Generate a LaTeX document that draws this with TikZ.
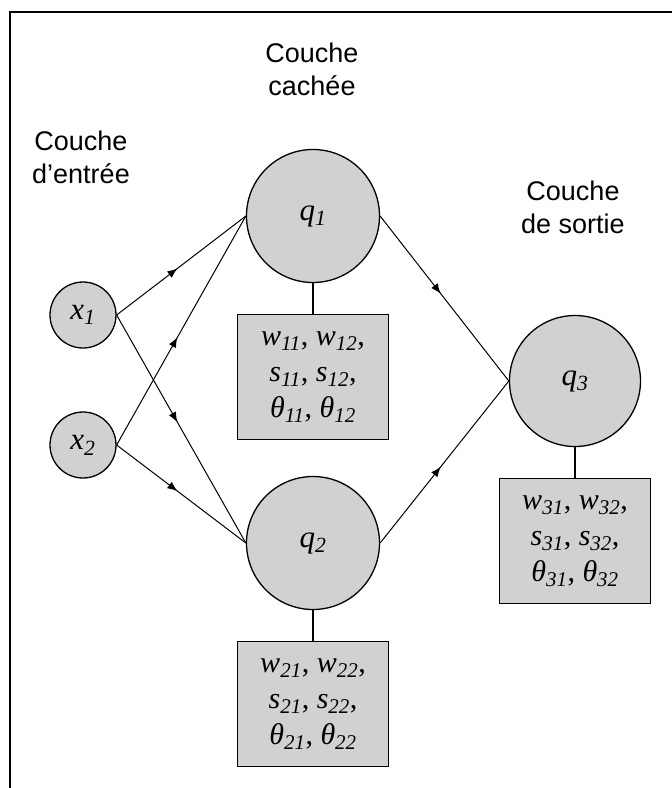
\documentclass[tikz,border=0pt]{standalone}
\usepackage{fontspec}
\setmainfont{Liberation Serif}
\newfontfamily\labfont{Liberation Sans}
\usetikzlibrary{decorations.markings,arrows.meta}
\newcommand\vr[2]{\textit{#1}\textsubscript{\textit{#2}}}
\begin{document}
\begin{tikzpicture}[x=1pt,y=-1pt,
  neuron/.style={circle,draw=black,line width=1.3pt,fill=black!18,inner sep=0pt,
     font=\fontsize{31}{36}\selectfont},
  parbox/.style={rectangle,draw=black,line width=1.5pt,fill=black!18,
     minimum width=151pt,minimum height=125pt,inner sep=0pt,align=center,
     font=\fontsize{30}{36}\selectfont},
  layerlab/.style={align=center,font=\labfont\fontsize{27}{33}\selectfont},
  link/.style={line width=1pt,postaction={decorate},
     decoration={markings,mark=at position 0.47 with {\arrow{Latex[length=10pt,width=8pt]}}}},
  tie/.style={line width=1.6pt}]
\useasboundingbox (0,0) rectangle (672,788);
\coordinate (fTL) at (10,12);
\coordinate (fTR) at (672,12);
\coordinate (fBL) at (10,788);
\draw[line width=1.3pt] (fTR) -- (fTL) -- (fBL);

\node[layerlab] (lh) at (312,69) {Couche\\cachée};
\node[layerlab] (li) at (81,157) {Couche\\d’entrée};
\node[layerlab] (lo) at (573,207) {Couche\\de sortie};

\node[neuron,minimum size=66pt] (x1) at (83,315) {\vr{x}{1}};
\node[neuron,minimum size=66pt] (x2) at (83,445) {\vr{x}{2}};
\node[neuron,minimum size=133pt] (q1) at (313,216) {\vr{q}{1}};
\node[neuron,minimum size=133pt] (q2) at (313,543) {\vr{q}{2}};
\node[neuron,minimum size=131pt] (q3) at (575,381) {\vr{q}{3}};

\node[parbox] (b1) at (313,377) {\vr{w}{11}, \vr{w}{12},\\ \vr{s}{11}, \vr{s}{12},\\ \vr{θ}{11}, \vr{θ}{12}};
\node[parbox] (b2) at (313,704) {\vr{w}{21}, \vr{w}{22},\\ \vr{s}{21}, \vr{s}{22},\\ \vr{θ}{21}, \vr{θ}{22}};
\node[parbox] (b3) at (575,541) {\vr{w}{31}, \vr{w}{32},\\ \vr{s}{31}, \vr{s}{32},\\ \vr{θ}{31}, \vr{θ}{32}};

\draw[tie] (q1) -- (b1);
\draw[tie] (q2) -- (b2);
\draw[tie] (q3) -- (b3);

\draw[link] (x1.east) -- (q1.west);
\draw[link] (x2.east) -- (q1.west);
\draw[link] (x1.east) -- (q2.west);
\draw[link] (x2.east) -- (q2.west);
\draw[link] (q1.east) -- (q3.west);
\draw[link] (q2.east) -- (q3.west);
\end{tikzpicture}
\end{document}
